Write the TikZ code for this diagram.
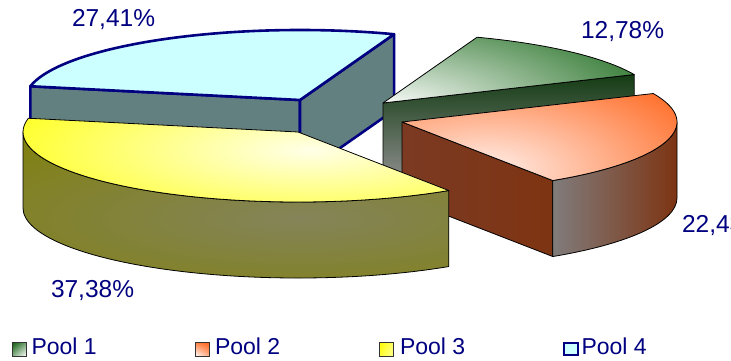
\documentclass[tikz,border=0pt]{standalone}
\usepackage{fontspec}
\setmainfont{Liberation Sans}
\usetikzlibrary{shadings}
\definecolor{navyc}{RGB}{0,0,128}
\definecolor{cytop}{RGB}{204,255,255}
\definecolor{cyside}{RGB}{99,128,128}
\definecolor{grdark}{RGB}{20,60,20}
\definecolor{grmid}{RGB}{45,66,45}
\definecolor{grgray}{RGB}{140,140,140}
\definecolor{grtop}{RGB}{12,96,12}
\definecolor{orbrown}{RGB}{125,52,18}
\definecolor{orbrownl}{RGB}{124,58,35}
\definecolor{orgray}{RGB}{128,108,108}
\definecolor{orgray2}{RGB}{128,124,124}
\definecolor{ortop}{RGB}{255,96,20}
\definecolor{orwhite}{RGB}{255,240,235}
\definecolor{yeolive}{RGB}{128,128,0}
\definecolor{yegray}{RGB}{132,132,90}
\definecolor{yewhite}{RGB}{255,255,232}
\definecolor{yetop}{RGB}{255,255,0}
\newcommand\slicepts[5]{%
  \coordinate (#1c) at (#2,#3);
  \coordinate (#1cd) at (#2,{#3+76});
  \coordinate (#1a) at ({#2+275*cos(#4)},{#3-70*sin(#4)});
  \coordinate (#1ad) at ({#2+275*cos(#4)},{#3+76-70*sin(#4)});
  \coordinate (#1b) at ({#2+275*cos(#5)},{#3-70*sin(#5)});
  \coordinate (#1bd) at ({#2+275*cos(#5)},{#3+76-70*sin(#5)});
}
\begin{document}
\begin{tikzpicture}[x=1pt,y=-1pt,
  every node/.style={inner sep=0pt, outer sep=0pt},
  lbl/.style={anchor=base west, text=navyc, font=\fontsize{24.5}{24.5}\selectfont},
  leg/.style={anchor=base west, text=navyc, font=\fontsize{23}{23}\selectfont},
  edge/.style={draw=black, line width=0.8pt, line join=round},
  cyedge/.style={draw=navyc, line width=2.6pt, line join=round},
  swatch/.style={draw=black!80, line width=0.8pt},
  er/.style={x radius=275, y radius=70}
]
\useasboundingbox (0,0) rectangle (731,361);

\slicepts{cy}{300}{100}{70}{168.68}
\slicepts{gr}{383}{103}{24}{70}
\slicepts{or}{402}{122}{-56.75}{24}
\slicepts{ye}{298}{132}{168.68}{303.25}
\coordinate (or0d) at (677,198);
\coordinate (ye180) at (23,132);

% ---- Pool 4 (cyan) ----
\path[fill=cyside, cyedge] (cyc) -- (cyb) -- (cybd) -- (cycd) -- cycle;
\path[fill=cyside, cyedge] (cyc) -- (cya) -- (cyad) -- (cycd) -- cycle;
\path[fill=cytop, cyedge] (cyc) -- (cya) arc[start angle=-70, end angle=-168.68, er] -- cycle;

% ---- Pool 1 (green) ----
\shade[top color=grdark, middle color=grmid, bottom color=grgray]
  (grc) -- (gra) -- (grad) -- (grcd) -- cycle;
\draw[edge] (grc) -- (gra) -- (grad) -- (grcd) -- cycle;
\begin{scope}
  \clip (grc) -- (gra) arc[start angle=-24, end angle=-70, er] -- cycle;
  \shade[inner color=white, outer color=grtop] (385,108) ellipse [x radius=340, y radius=125];
\end{scope}
\draw[edge] (grc) -- (gra) arc[start angle=-24, end angle=-70, er] -- cycle;

% ---- Pool 2 (orange) ----
\shade[left color=orbrownl, middle color=orgray, right color=orbrown]
  (orc) -- (ora) -- (orad) -- (orcd) -- cycle;
\draw[edge] (orc) -- (ora) -- (orad) -- (orcd) -- cycle;
\shade[left color=orgray2, right color=orbrown]
  (ora) arc[start angle=56.75, end angle=0, er] -- (or0d) arc[start angle=0, end angle=56.75, er] -- cycle;
\draw[edge] (ora) arc[start angle=56.75, end angle=0, er] -- (or0d) arc[start angle=0, end angle=56.75, er] -- cycle;
\begin{scope}
  \clip (orc) -- (ora) arc[start angle=56.75, end angle=-24, er] -- cycle;
  \shade[inner color=orwhite, outer color=ortop] (485,170) ellipse [x radius=270, y radius=125];
\end{scope}
\draw[edge] (orc) -- (ora) arc[start angle=56.75, end angle=-24, er] -- cycle;

% ---- Pool 3 (yellow) ----
\begin{scope}
  \clip (ye180) arc[start angle=180, end angle=56.75, er] -- (yebd) arc[start angle=56.75, end angle=180, er] -- cycle;
  \shade[inner color=yegray, outer color=yeolive] (300,218) ellipse [x radius=520, y radius=120];
\end{scope}
\draw[edge] (ye180) arc[start angle=180, end angle=56.75, er] -- (yebd) arc[start angle=56.75, end angle=180, er] -- cycle;
\begin{scope}
  \clip (yec) -- (yeb) arc[start angle=56.75, end angle=191.32, er] -- cycle;
  \shade[inner color=yewhite, outer color=yetop] (310,150) ellipse [x radius=380, y radius=100];
\end{scope}
\draw[edge] (yec) -- (yeb) arc[start angle=56.75, end angle=191.32, er] -- cycle;

% ---- data labels ----
\node[lbl] (l4) at (72,27) {27,41\%};
\node[lbl] (l1) at (581,39) {12,78\%};
\node[lbl] (l3) at (51,297) {37,38\%};
\node[lbl] (l2) at (682,232) {22,43\%};

% ---- legend ----
\shade[upper left=grtop!90!black, upper right=grtop!60!white, lower left=grtop!50!white, lower right=white]
  (12,342) rectangle (26,356);
\draw[swatch] (12,342) rectangle (26,356);
\node[leg] (k1) at (31.5,354.5) {Pool 1};

\shade[upper left=ortop!80!white, upper right=ortop, lower left=white, lower right=ortop!50!white]
  (195,342) rectangle (209,356);
\draw[swatch] (195,342) rectangle (209,356);
\node[leg] (k2) at (215,354.5) {Pool 2};

\shade[upper left=yetop, upper right=yetop!60!white, lower left=yetop!80!white, lower right=yetop!40!white]
  (379.5,342) rectangle (393.5,356);
\draw[swatch] (379.5,342) rectangle (393.5,356);
\node[leg] (k3) at (400,354.5) {Pool 3};

\path[fill=cytop, draw=navyc, line width=2.6pt] (564,343) rectangle (578,355);
\node[leg] (k4) at (581.5,354.5) {Pool 4};
\end{tikzpicture}
\end{document}
